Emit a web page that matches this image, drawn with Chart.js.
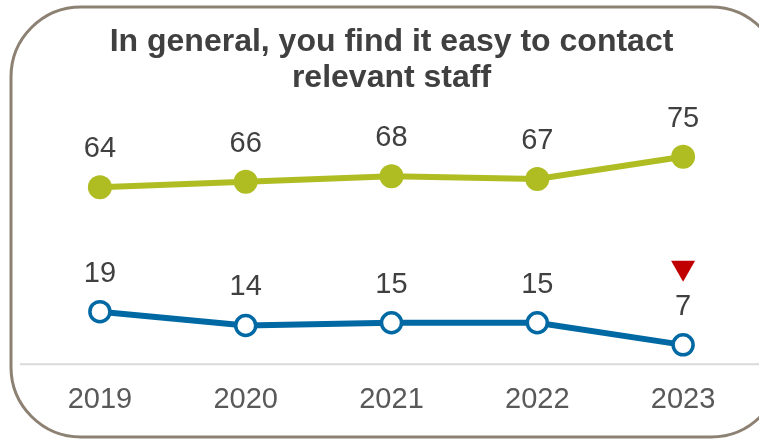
<!DOCTYPE html>
<html>
<head>
<meta charset="utf-8">
<script src="https://cdn.jsdelivr.net/npm/chart.js@4.4.1/dist/chart.umd.min.js"></script>
<style>
  html, body { margin: 0; background: #fff; overflow: hidden; }
  canvas { display: block; }
</style>
</head>
<body>
<canvas id="grafico" width="770" height="439"></canvas>
<script>
// anos e series
var anos = ["2019", "2020", "2021", "2022", "2023"];
var concorda = [64, 66, 68, 67, 75];
var discorda = [19, 14, 15, 15, 7];
// mudanca significativa por ano (so a serie de baixo tem marcador)
var mudancaDiscorda = [null, null, null, null, "down"];
var titulo = ["In general, you find it easy to contact", "relevant staff"];

var corTexto = "#404040";
var fonte = "'Liberation Sans', Arial, sans-serif";

// moldura arredondada, linha base e rotulos de valor
var extras = {
    id: "extras",
    beforeDraw: function (chart) {
        var ctx = chart.ctx;
        ctx.save();
        ctx.fillStyle = "#ffffff";
        ctx.fillRect(0, 0, chart.width, chart.height);
        ctx.strokeStyle = "#8c8172";
        ctx.lineWidth = 3;
        ctx.beginPath();
        ctx.roundRect(11, 7, 770, 430, 70);
        ctx.stroke();
        ctx.restore();
    },
    beforeDatasetsDraw: function (chart) {
        var ctx = chart.ctx;
        var y0 = chart.scales.y.getPixelForValue(0);
        ctx.save();
        ctx.strokeStyle = "#d9d9d9";
        ctx.lineWidth = 2;
        ctx.beginPath();
        ctx.moveTo(20, y0);
        ctx.lineTo(chart.width, y0);
        ctx.stroke();
        ctx.restore();
    },
    afterDatasetsDraw: function (chart) {
        var ctx = chart.ctx;
        ctx.save();
        ctx.font = "29px " + fonte;
        ctx.textAlign = "center";
        ctx.textBaseline = "middle";
        chart.data.datasets.forEach(function (ds, i) {
            var meta = chart.getDatasetMeta(i);
            meta.data.forEach(function (pt, j) {
                ctx.fillStyle = corTexto;
                ctx.fillText(String(ds.data[j]), pt.x, pt.y - 38);
                if (i === 1 && mudancaDiscorda[j] === "down") {
                    var ty = pt.y - 74;
                    ctx.fillStyle = "#c00000";
                    ctx.beginPath();
                    ctx.moveTo(pt.x - 12, ty - 10);
                    ctx.lineTo(pt.x + 12, ty - 10);
                    ctx.lineTo(pt.x, ty + 11);
                    ctx.closePath();
                    ctx.fill();
                }
            });
        });
        ctx.restore();
    }
};

new Chart(document.getElementById("grafico"), {
    type: "line",
    data: {
        labels: anos,
        datasets: [
            {
                data: concorda,
                borderColor: "#afbd22",
                backgroundColor: "#afbd22",
                borderWidth: 6,
                pointRadius: 12,
                pointBorderWidth: 0,
                pointBackgroundColor: "#afbd22",
                tension: 0,
                clip: false
            },
            {
                data: discorda,
                borderColor: "#0068a3",
                backgroundColor: "#ffffff",
                borderWidth: 6,
                pointRadius: 10,
                pointBorderWidth: 3.5,
                pointBorderColor: "#0068a3",
                pointBackgroundColor: "#ffffff",
                tension: 0,
                clip: false
            }
        ]
    },
    options: {
        responsive: false,
        animation: false,
        layout: { padding: { left: 27, right: 14, top: 0, bottom: 4 } },
        plugins: {
            legend: { display: false },
            tooltip: { enabled: false },
            title: {
                display: true,
                text: titulo,
                color: corTexto,
                font: { family: fonte, size: 32, weight: "bold", lineHeight: 1.125 },
                padding: { top: 24, bottom: 47 }
            }
        },
        scales: {
            x: {
                offset: true,
                grid: { display: false, drawTicks: false },
                border: { display: false },
                ticks: {
                    color: "#595959",
                    padding: 18,
                    font: { family: fonte, size: 29 }
                }
            },
            y: {
                display: false,
                min: 0,
                max: 80
            }
        }
    },
    plugins: [extras]
});
</script>
</body>
</html>
